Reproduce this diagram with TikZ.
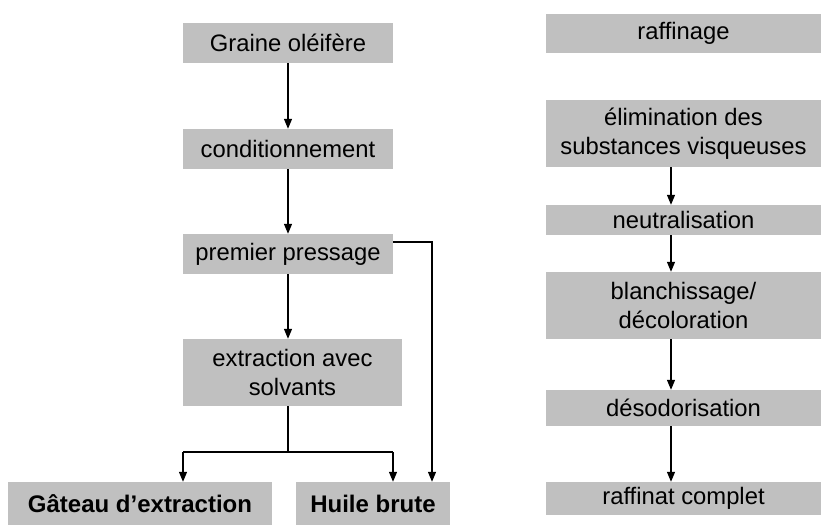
\documentclass[tikz,border=0pt]{standalone}
\usepackage{fontspec}
\setmainfont{Liberation Sans}
\usetikzlibrary{arrows.meta}
\definecolor{boxgray}{RGB}{192,192,192}
\begin{document}
\begin{tikzpicture}[x=1pt,y=-1pt,
  box/.style={fill=boxgray, draw=none, inner sep=0pt, align=center,
    font=\fontsize{23.8}{28.5}\selectfont},
  bbox/.style={box, font=\bfseries\fontsize{24}{28}\selectfont},
  arr/.style={line width=1.2pt, -{Triangle[length=10pt,width=8pt]}},
  ln/.style={line width=1.2pt}]
\useasboundingbox (0,0) rectangle (821,525);
% left column
\node[box, minimum width=210pt, minimum height=40pt] (g1) at (288,43) {Graine oléifère};
\node[box, minimum width=210pt, minimum height=40pt] (g2) at (288,149) {conditionnement};
\node[box, minimum width=210pt, minimum height=40pt] (g3) at (288,254) {premier pressage};
\node[box, minimum width=219pt, minimum height=67pt] (g4) at (292.5,372.5) {extraction avec\\solvants};
\node[bbox, minimum width=264pt, minimum height=43pt] (g5) at (140,503.5) {Gâteau d’extraction};
\node[bbox, minimum width=154pt, minimum height=43pt] (g6) at (373,503.5) {Huile brute};
% right column
\node[box, minimum width=275pt, minimum height=39pt] (r1) at (683.5,33.5) {raffinage};
\node[box, minimum width=275pt, minimum height=67pt] (r2) at (683.5,133.5) {élimination des\\substances visqueuses};
\node[box, minimum width=275pt, minimum height=30pt] (r3) at (683.5,220) {neutralisation};
\node[box, minimum width=275pt, minimum height=67pt] (r4) at (683.5,305.5) {blanchissage/\\décoloration};
\node[box, minimum width=275pt, minimum height=36pt] (r5) at (683.5,408) {désodorisation};
\node[box, minimum width=275pt, minimum height=33pt] (r6) at (683.5,498.5) {raffinat complet};
% helper coordinates
\coordinate (lx) at (288,0);
\coordinate (s) at (288,452);
\coordinate (sl) at (183,452);
\coordinate (sr) at (393,452);
\coordinate (hr) at (432,0);
\coordinate (ax) at (671,0);
% left connectors
\draw[arr] (g1.south) -- (g2.north);
\draw[arr] (g2.south) -- (g3.north);
\draw[arr] (g3.south) -- (lx |- g4.north);
\draw[ln] (lx |- g4.south) -- (s);
\draw[ln] (sl) -- (sr);
\draw[arr] (sl) -- (sl |- g5.north);
\draw[arr] (sr) -- (sr |- g6.north);
\draw[arr] ([yshift=12pt]g3.east) -| (hr |- g6.north);
% right connectors
\draw[arr] (ax |- r2.south) -- (ax |- r3.north);
\draw[arr] (ax |- r3.south) -- (ax |- r4.north);
\draw[arr] (ax |- r4.south) -- (ax |- r5.north);
\draw[arr] (ax |- r5.south) -- (ax |- r6.north);
\end{tikzpicture}
\end{document}
